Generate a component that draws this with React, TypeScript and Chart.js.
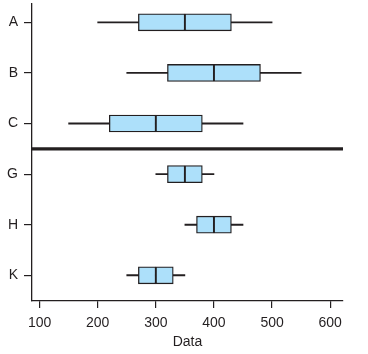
import React, { useEffect, useRef } from 'react';
import { Chart, registerables } from 'chart.js';

Chart.register(...registerables);

const categories = ['A', 'B', 'C', 'G', 'H', 'K'];
const mins = [200, 250, 150, 300, 350, 250];
const q1s = [270, 320, 220, 320, 370, 270];
const medians = [350, 400, 300, 350, 400, 300];
const q3s = [430, 480, 380, 380, 430, 330];
const maxs = [500, 550, 450, 400, 450, 350];
const xTicks = [100, 200, 300, 400, 500, 600];
const xTitle = 'Data';
const X_MIN = 87;
const X_MAX = 622;
const DIVIDER_AT = 2.5;

const INK = '#231f20';
const FILL = '#ade0fa';
const FONT = 'Liberation Sans, Arial, Helvetica, sans-serif';

export default function App() {
  const ref = useRef<HTMLCanvasElement>(null);

  useEffect(() => {
    if (!ref.current) return;
    const chart = new Chart(ref.current, {
      type: 'bar',
      data: {
        datasets: [
          {
            data: categories.map((_, i) => ({ x: [mins[i], maxs[i]], y: i })) as any,
            backgroundColor: INK,
            borderWidth: 0,
            maxBarThickness: 1.2,
            barPercentage: 1,
            categoryPercentage: 1,
            grouped: false,
            order: 3,
          } as any,
          {
            data: categories.map((_, i) => ({ x: [q1s[i], medians[i]], y: i })) as any,
            backgroundColor: FILL,
            borderColor: INK,
            borderWidth: 1.3,
            borderSkipped: false,
            maxBarThickness: 17,
            barPercentage: 1,
            categoryPercentage: 1,
            grouped: false,
            order: 1,
          } as any,
          {
            data: categories.map((_, i) => ({ x: [medians[i], q3s[i]], y: i })) as any,
            backgroundColor: FILL,
            borderColor: INK,
            borderWidth: 1.3,
            borderSkipped: false,
            maxBarThickness: 17,
            barPercentage: 1,
            categoryPercentage: 1,
            grouped: false,
            order: 1,
          } as any,
          {
            data: [{ x: [X_MIN, X_MAX], y: DIVIDER_AT }] as any,
            backgroundColor: INK,
            borderWidth: 0,
            maxBarThickness: 2.6,
            barPercentage: 1,
            categoryPercentage: 1,
            grouped: false,
            order: 2,
          } as any,
        ],
      },
      options: {
        indexAxis: 'y',
        animation: false,
        responsive: true,
        maintainAspectRatio: false,
        layout: { padding: { top: 4, right: 25, left: 0, bottom: 0 } },
        plugins: { legend: { display: false }, tooltip: { enabled: false } },
        scales: {
          x: {
            type: 'linear',
            min: X_MIN,
            max: X_MAX,
            offset: false,
            afterBuildTicks: (s: any) => {
              s.ticks = xTicks.map((v) => ({ value: v }));
            },
            afterFit: (s: any) => {
              s.height = 53;
              s.paddingLeft = 0;
              s.paddingRight = 0;
            },
            grid: {
              display: true,
              offset: false,
              drawOnChartArea: false,
              drawTicks: true,
              tickLength: 7,
              color: INK,
              lineWidth: 1.2,
            },
            border: { display: true, color: INK, width: 1.3 },
            ticks: {
              color: INK,
              font: { family: FONT, size: 14 },
              padding: 7,
              maxRotation: 0,
              autoSkip: false,
            },
            title: {
              display: true,
              text: xTitle,
              color: INK,
              font: { family: FONT, size: 14 },
              padding: { top: 0, bottom: 3 },
            },
          },
          y: {
            type: 'linear',
            reverse: true,
            offset: false,
            min: -0.362,
            max: 5.508,
            afterBuildTicks: (s: any) => {
              s.ticks = categories.map((_, i) => ({ value: i }));
            },
            afterFit: (s: any) => {
              s.width = 32;
              s.paddingTop = 0;
              s.paddingBottom = 0;
            },
            grid: {
              display: true,
              offset: false,
              drawOnChartArea: false,
              drawTicks: true,
              tickLength: 8,
              color: INK,
              lineWidth: 1.2,
            },
            border: { display: true, color: INK, width: 1.3 },
            ticks: {
              color: INK,
              font: { family: FONT, size: 14 },
              padding: 6,
              autoSkip: false,
              callback: (v: any) => categories[Number(v)] ?? '',
            },
          },
        },
      } as any,
    });
    return () => chart.destroy();
  }, []);

  return (
    <div style={{ position: 'absolute', left: 0, top: 0, width: 368, height: 354 }}>
      <canvas ref={ref} />
    </div>
  );
}
